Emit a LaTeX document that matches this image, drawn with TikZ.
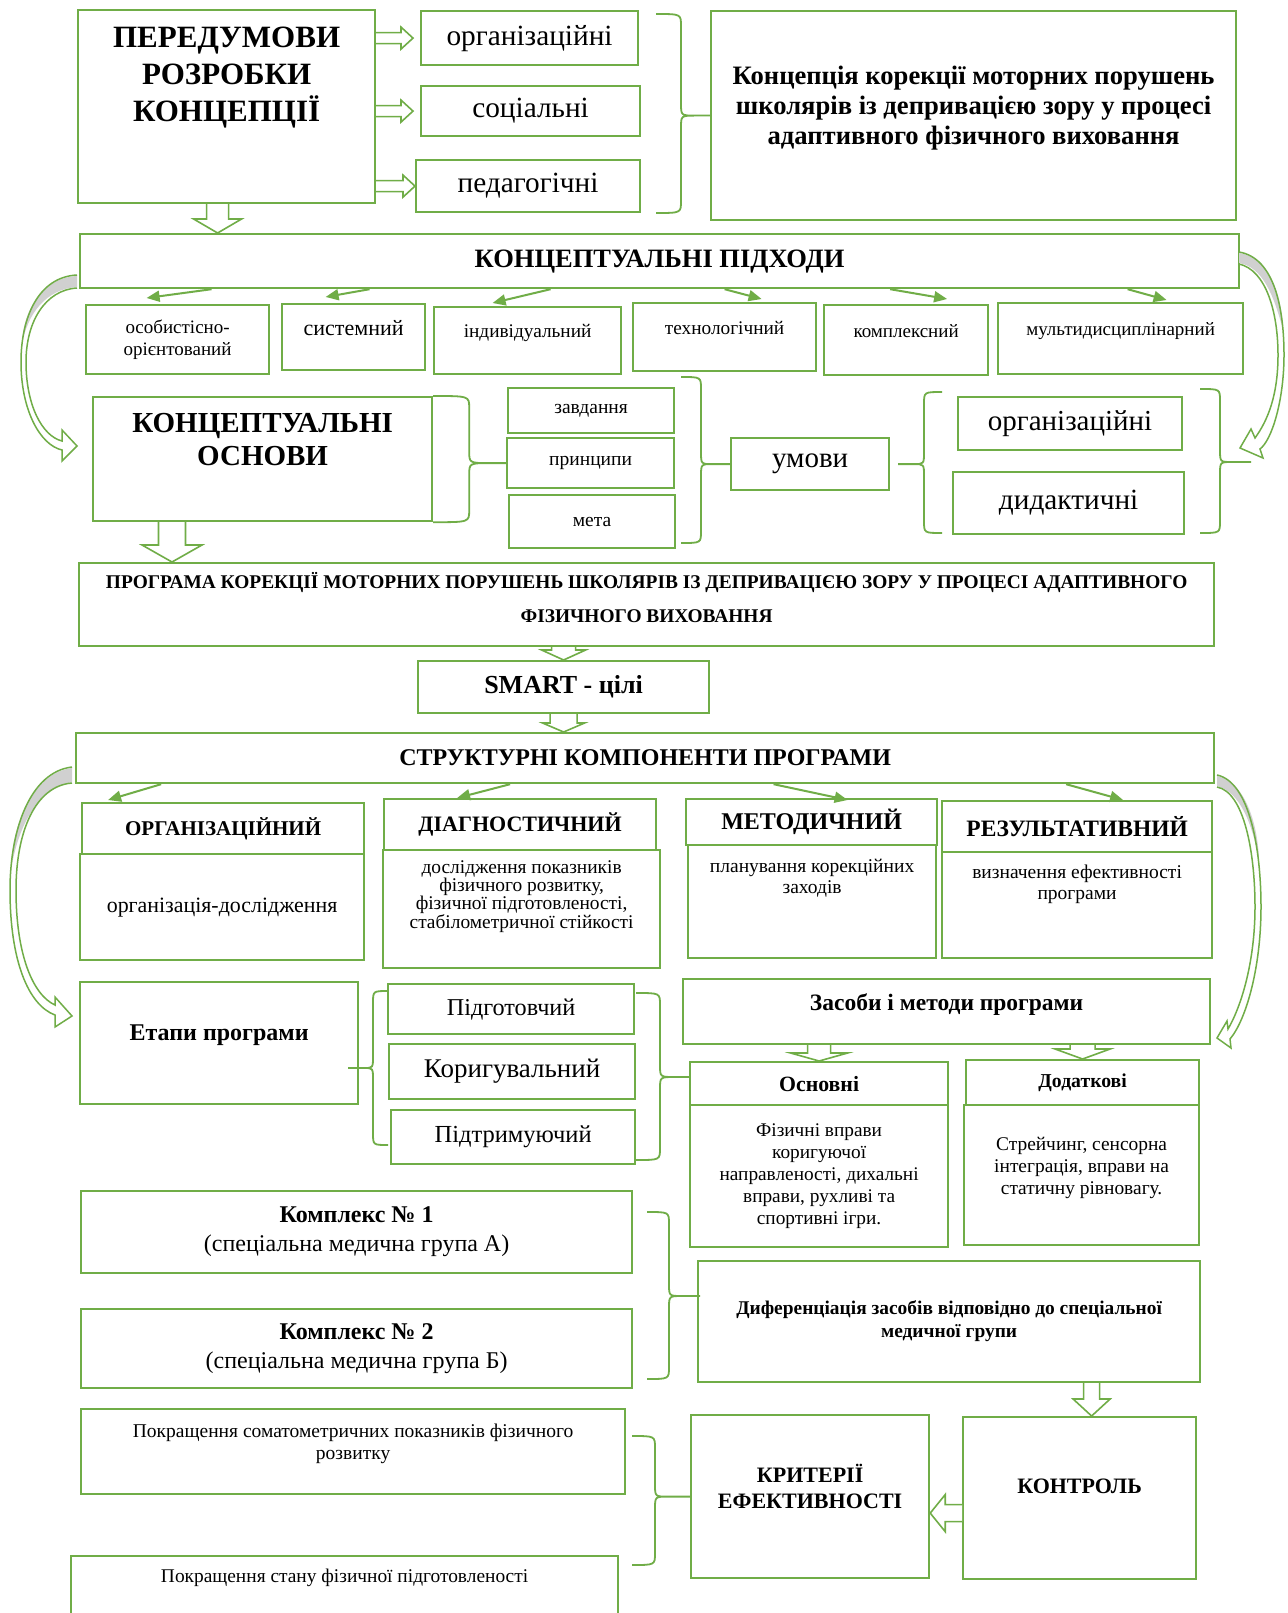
\documentclass[tikz,border=0pt]{standalone}
\usepackage{fontspec}
\setmainfont{Liberation Serif}
\usetikzlibrary{arrows.meta,calc,positioning}
\definecolor{grn}{RGB}{112,173,71}
\definecolor{shd}{RGB}{208,208,208}
\newcommand{\fsz}[2]{\fontsize{#1}{#2}\selectfont}
\tikzset{
  box/.style={draw=grn, line width=2.2pt, fill=white, anchor=north west, align=center, inner sep=2pt},
  blk/.style={draw=grn, line width=1.6pt, fill=white, line join=miter},
  brc/.style={draw=grn, line width=1.8pt},
  band/.style={draw=grn, line width=1.5pt, line join=miter},
  smallarr/.style={draw=grn, line width=2pt, -{Triangle[length=13pt,width=11pt]}},
}
% block arrow pointing down: top point, tip, half shaft, half head, head length
\newcommand{\downblk}[5]{%
  \draw[blk] let \p1=(#1), \p2=(#2) in
    ({\x1-#3},\y1) -- ({\x1-#3},{\y2+#5}) -- ({\x1-#4},{\y2+#5}) -- (\x1,\y2)
    -- ({\x1+#4},{\y2+#5}) -- ({\x1+#3},{\y2+#5}) -- ({\x1+#3},\y1);}
% block arrow sideways: start, tip, half shaft, half head, signed head length
\newcommand{\sideblk}[5]{%
  \draw[blk] let \p1=(#1), \p2=(#2) in
    (\x1,{\y1+#3}) -- ({\x2-(#5)},{\y1+#3}) -- ({\x2-(#5)},{\y1+#4}) -- (\x2,\y1)
    -- ({\x2-(#5)},{\y1-#4}) -- ({\x2-(#5)},{\y1-#3}) -- (\x1,{\y1-#3});}
% curly brace: top end, bottom end, target of the tip, signed depth
\newcommand{\grpbrace}[4]{%
  \draw[brc] let \p1=(#1), \p2=(#2), \p3=(#3), \n1={#4} in
    (\x1,\y1) .. controls ({\x1+\n1},\y1) .. ({\x1+\n1},{\y1-12pt})
    -- ({\x1+\n1},{\y3+12pt}) .. controls ({\x1+\n1},\y3) .. ({\x1+1.6*\n1},\y3) -- (\x3,\y3)
    ({\x1+1.6*\n1},\y3) .. controls ({\x1+\n1},\y3) .. ({\x1+\n1},{\y3-12pt})
    -- ({\x1+\n1},{\y2+12pt}) .. controls ({\x1+\n1},\y2) .. (\x2,\y2);}

\begin{document}
\begin{tikzpicture}[x=1pt, y=-1pt]
\path[use as bounding box, fill=white] (0,0) rectangle (1287,1613);

%% Preconditions
\node[box, minimum width=297, minimum height=193, font=\bfseries\fsz{31}{37}, text depth=64pt] (pered) at (77,9) {ПЕРЕДУМОВИ\\РОЗРОБКИ\\КОНЦЕПЦІЇ};
\node[box, minimum width=217, minimum height=54, font=\fsz{29.3}{33}] (orgA) at (420,10) {організаційні};
\node[box, minimum width=219, minimum height=50, font=\fsz{29.3}{33}] (soc) at (420,85) {соціальні};
\node[box, minimum width=224, minimum height=52, font=\fsz{29.3}{33}] (ped) at (415,159) {педагогічні};
\node[box, minimum width=525, minimum height=209, font=\bfseries\fsz{26.6}{30}, text depth=20pt] (konc) at (710,10)
  {Концепція корекції моторних порушень\\школярів із депривацією зору у процесі\\адаптивного фізичного виховання};
\sideblk{pered.east |- orgA.west}{[xshift=-7pt]orgA.west}{5.5pt}{11pt}{12pt}
\sideblk{pered.east |- soc.west}{[xshift=-7pt]soc.west}{5.5pt}{11pt}{12pt}
\sideblk{pered.east |- ped.west}{ped.west}{5.5pt}{11pt}{12pt}
\grpbrace{656,14}{656,213}{konc.west}{25}

%% Conceptual approaches
\node[box, minimum width=1159, minimum height=54, font=\bfseries\fsz{26.5}{30}] (podh) at (79,233) {КОНЦЕПТУАЛЬНІ ПІДХОДИ};
\downblk{[xshift=-9pt]pered.south}{podh.north}{11pt}{24pt}{14pt}
\node[box, minimum width=183, minimum height=69, font=\fsz{19}{22}] (a1) at (85,304) {особистісно-\\орієнтований};
\node[box, minimum width=143, minimum height=66, font=\fsz{22}{24}, text depth=19pt] (a2) at (281,303) {системний};
\node[box, minimum width=187, minimum height=67, font=\fsz{19.3}{22}, text depth=19pt] (a3) at (433,306) {індивідуальний};
\node[box, minimum width=183, minimum height=68, font=\fsz{19.3}{22}, text depth=19pt] (a4) at (632,302) {технологічний};
\node[box, minimum width=164, minimum height=70, font=\fsz{19}{22}, text depth=19pt] (a5) at (823,304) {комплексний};
\node[box, minimum width=245, minimum height=71, font=\fsz{19}{22}, text depth=19pt] (a6) at (997,302) {мультидисциплінарний};
\foreach \b/\s/\tx/\ty in {a1/34/-31/6, a2/16/-28/6, a3/23/-35/3, a4/0/37/3, a5/-16/41/5, a6/7/46/2}{
  \draw[smallarr] ($(\b.north |- podh.south)+(\s,0)$) -- ($(\b.north)+(\tx,-\ty)$);
}

%% Conceptual foundations
\node[box, minimum width=339, minimum height=124, font=\bfseries\fsz{29}{33}, text depth=39pt] (osn) at (92,396) {КОНЦЕПТУАЛЬНІ\\ОСНОВИ};
\node[box, minimum width=166, minimum height=45, font=\fsz{19.5}{22}] (zavd) at (507,387) {завдання};
\node[box, minimum width=167, minimum height=50, font=\fsz{19.5}{22}] (pryn) at (506,437) {принципи};
\node[box, minimum width=166, minimum height=53, font=\fsz{19.5}{22}] (meta) at (508,494) {мета};
\node[box, minimum width=158, minimum height=52, font=\fsz{29}{33}] (umovy) at (730,437) {умови};
\node[box, minimum width=224, minimum height=53, font=\fsz{29}{33}] (orgB) at (957,396) {організаційні};
\node[box, minimum width=231, minimum height=62, font=\fsz{29.3}{33}] (dyd) at (952,471) {дидактичні};
\grpbrace{osn.north east}{osn.south east}{pryn.west}{36}
\grpbrace{681,377}{681,543}{umovy.west}{20}
\grpbrace{942,392}{942,533}{[xshift=8pt]umovy.east}{-18}
\grpbrace{1200,389}{1200,533}{1251,462}{20}

% curved arrows from the approaches
\fill[shd] (77,276) .. controls (40,278) and (22,315) .. (22,345) .. controls (27,314) and (46,289) .. (77,287) -- cycle;
\draw[band] (77,275) .. controls (38,277) and (21,318) .. (21,362) .. controls (21,410) and (40,445) .. (62,450)
  -- (62,461) -- (77,446) -- (62,430) -- (62,441) .. controls (42,436) and (26,405) .. (26,362)
  .. controls (26,322) and (45,290) .. (77,288);
\fill[shd] (1239,253) .. controls (1272,258) and (1282,300) .. (1283,330) .. controls (1274,296) and (1263,267) .. (1239,263) -- cycle;
\draw[band] (1239,252) .. controls (1275,258) and (1284,310) .. (1284,355) .. controls (1284,400) and (1272,440) .. (1260,449)
  -- (1263,458) -- (1240,448) -- (1251,429) -- (1255,438) .. controls (1268,420) and (1278,395) .. (1278,355)
  .. controls (1278,312) and (1266,270) .. (1239,264);

%% Programme
\node[box, minimum width=1135, minimum height=83, font=\bfseries\fsz{19.4}{34}, text depth=15pt] (prog) at (78,562)
  {ПРОГРАМА КОРЕКЦІЇ МОТОРНИХ ПОРУШЕНЬ ШКОЛЯРІВ ІЗ ДЕПРИВАЦІЄЮ ЗОРУ У ПРОЦЕСІ АДАПТИВНОГО\\ФІЗИЧНОГО ВИХОВАННЯ};
\downblk{[xshift=80pt]osn.south west}{prog.north}{13.5pt}{30pt}{17pt}
\node[box, minimum width=291, minimum height=52, font=\bfseries\fsz{26}{30}] (smart) at (417,660) {SMART - цілі};
\downblk{smart.north |- prog.south}{smart.north}{12pt}{22pt}{10pt}
\node[box, minimum width=1138, minimum height=50, font=\bfseries\fsz{24}{28}] (strukt) at (75,732) {СТРУКТУРНІ КОМПОНЕНТИ ПРОГРАМИ};
\downblk{smart.south}{strukt.north}{13.5pt}{21pt}{9pt}

%% Structural components
\node[box, minimum width=284, minimum height=106, font=\fsz{21.9}{25}] (c1b) at (79,853) {організація-дослідження};
\node[box, minimum width=282, minimum height=51, font=\bfseries\fsz{21}{24}] (c1h) at (81,802) {ОРГАНІЗАЦІЙНИЙ};
\node[box, minimum width=277, minimum height=118, font=\fsz{19.4}{18}, text depth=30pt] (c2b) at (382,849)
  {дослідження показників\\фізичного розвитку,\\фізичної підготовленості,\\стабілометричної стійкості};
\node[box, minimum width=272, minimum height=51, font=\bfseries\fsz{22}{24}] (c2h) at (383,798) {ДІАГНОСТИЧНИЙ};
\node[box, minimum width=248, minimum height=113, font=\fsz{19.5}{21}, text depth=51pt] (c3b) at (687,844) {планування корекційних\\заходів};
\node[box, minimum width=251, minimum height=46, font=\bfseries\fsz{24}{28}] (c3h) at (685,798) {МЕТОДИЧНИЙ};
\node[box, minimum width=270, minimum height=106, font=\fsz{19.5}{21}, text depth=45pt] (c4b) at (941,851) {визначення ефективності\\програми};
\node[box, minimum width=270, minimum height=51, font=\bfseries\fsz{23.5}{28}] (c4h) at (941,800) {РЕЗУЛЬТАТИВНИЙ};
\foreach \b/\s/\tx/\ty in {c1h/-62/-115/2, c2h/-10/-63/0, c3h/-38/36/-2, c4h/-11/46/0}{
  \draw[smallarr] ($(\b.north |- strukt.south)+(\s,0)$) -- ($(\b.north)+(\tx,-\ty)$);
}

%% Stages
\node[box, minimum width=278, minimum height=122, font=\bfseries\fsz{24}{28}, text depth=20pt] (etapy) at (79,981) {Етапи програми};
\node[box, minimum width=246, minimum height=50, font=\fsz{24.2}{28}] (st1) at (387,983) {Підготовчий};
\node[box, minimum width=246, minimum height=55, font=\fsz{27}{30}] (st2) at (388,1043) {Коригувальний};
\node[box, minimum width=244, minimum height=54, font=\fsz{24.5}{28}] (st3) at (390,1109) {Підтримуючий};
\grpbrace{388,991}{388,1145}{348,1068}{-15}
\grpbrace{636,993}{636,1160}{690,1077}{24}

%% Means and methods
\node[box, minimum width=527, minimum height=65, font=\bfseries\fsz{23.5}{28}, text depth=20pt] (zasoby) at (682,978) {Засоби і методи програми};
\node[box, minimum width=258, minimum height=142, font=\fsz{19.3}{22}] (osnB) at (689,1104)
  {Фізичні вправи\\коригуючої\\направленості, дихальні\\вправи, рухливі та\\спортивні ігри.};
\node[box, minimum width=258, minimum height=43, font=\bfseries\fsz{21.8}{24}] (osnH) at (689,1061) {Основні};
\node[box, minimum width=235, minimum height=140, font=\fsz{19.4}{22}, text depth=18pt] (dodB) at (963,1104)
  {Стрейчинг, сенсорна\\інтеграція, вправи на\\статичну рівновагу.};
\node[box, minimum width=233, minimum height=45, font=\bfseries\fsz{19.7}{22}] (dodH) at (965,1059) {Додаткові};
\downblk{osnH.north |- zasoby.south}{osnH.north}{11.5pt}{28.5pt}{8pt}
\downblk{dodH.north |- zasoby.south}{dodH.north}{12.5pt}{27.5pt}{10pt}

% curved arrows from the structural components
\fill[shd] (72,768) .. controls (32,773) and (11,828) .. (11,870) .. controls (18,826) and (38,788) .. (72,782) -- cycle;
\draw[band] (72,767) .. controls (30,772) and (10,830) .. (10,890) .. controls (10,960) and (28,1005) .. (55,1015)
  -- (55,1027) -- (72,1016) -- (55,997) -- (55,1005) .. controls (33,995) and (16,955) .. (16,890)
  .. controls (16,832) and (35,786) .. (72,783);
\fill[shd] (1217,776) .. controls (1248,783) and (1258,830) .. (1259,860) .. controls (1252,823) and (1240,792) .. (1217,786) -- cycle;
\draw[band] (1217,775) .. controls (1250,782) and (1261,850) .. (1261,907) .. controls (1261,968) and (1246,1020) .. (1230,1039)
  -- (1231,1048) -- (1217,1038) -- (1227,1021) -- (1228,1029) .. controls (1242,1005) and (1255,960) .. (1255,907)
  .. controls (1255,852) and (1244,792) .. (1217,787);

%% Complexes and differentiation
\node[box, minimum width=551, minimum height=82, font=\fsz{24}{29}] (k1) at (80,1190) {{\bfseries Комплекс № 1}\\(спеціальна медична група А)};
\node[box, minimum width=551, minimum height=79, font=\fsz{24}{29}] (k2) at (80,1308) {{\bfseries Комплекс № 2}\\(спеціальна медична група Б)};
\node[box, minimum width=502, minimum height=121, font=\bfseries\fsz{19.4}{23}] (dyf) at (697,1260)
  {Диференціація засобів відповідно до спеціальної\\медичної групи};
\grpbrace{647,1212}{647,1379}{700,1296}{22}

%% Criteria and control
\node[box, minimum width=544, minimum height=85, font=\fsz{19.5}{22}, text depth=20pt] (pokr1) at (80,1408)
  {Покращення соматометричних показників фізичного\\розвитку};
\node[box, minimum width=547, minimum height=80, font=\fsz{19.4}{22}, text depth=40pt] (pokr2) at (70,1555)
  {Покращення стану фізичної підготовленості};
\node[box, minimum width=238, minimum height=163, font=\bfseries\fsz{22}{26}, text depth=21pt] (krit) at (690,1414) {КРИТЕРІЇ\\ЕФЕКТИВНОСТІ};
\node[box, minimum width=233, minimum height=162, font=\bfseries\fsz{22}{26}, text depth=23pt] (kontr) at (962,1416) {КОНТРОЛЬ};
\grpbrace{632,1436}{632,1565}{krit.west}{23}
\downblk{$(kontr.north |- dyf.south)+(12,0)$}{kontr.north}{8pt}{18.5pt}{17pt}
\sideblk{[yshift=-15pt]kontr.west}{krit.east}{8.5pt}{18.5pt}{-15pt}

\end{tikzpicture}
\end{document}
